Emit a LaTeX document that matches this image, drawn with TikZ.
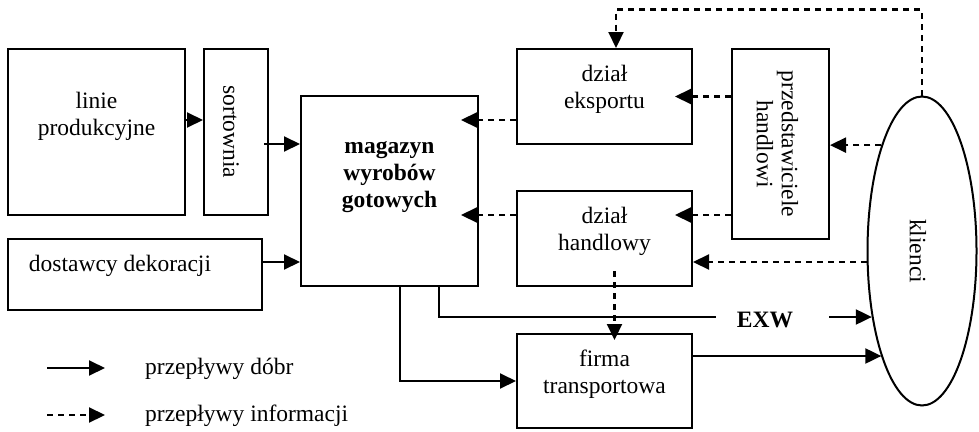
\documentclass[tikz,border=0pt]{standalone}
\usepackage{fontspec}
\setmainfont{Liberation Serif}
\usetikzlibrary{arrows.meta,calc,shapes.geometric}
\tikzset{
  blok/.style={draw, line width=2pt, inner sep=0pt},
  napis/.style={align=center, inner sep=0pt, font=\fontsize{23.5}{27}\selectfont},
  gruby/.style={napis, font=\fontsize{23.5}{27}\selectfont\bfseries},
  dobra/.style={line width=2pt, -{Triangle[length=16pt,width=15pt]}},
  info/.style={dobra, line width=2.2pt, dash pattern=on 6pt off 5pt},
}

\begin{document}
\begin{tikzpicture}[x=1pt, y=-1pt] % {{{
\useasboundingbox (0,0) rectangle (979,431);
% Bloki {{{
\node[blok, minimum width=177pt, minimum height=166pt] (linie) at (96.5,132) {};
\node[napis] (linieT) at ($(linie)+(0,-16)$) {linie\\produkcyjne};
\node[blok, minimum width=64pt, minimum height=166pt] (sort) at (236,132) {};
\node[napis, rotate=-90] (sortT) at ($(sort)+(-5,0)$) {sortownia};
\node[blok, minimum width=254pt, minimum height=71pt] (dost) at (135,274.5) {};
\node[napis] (dostT) at ($(dost)+(-15,-9)$) {dostawcy dekoracji};
\node[blok, minimum width=177pt, minimum height=190pt] (mag) at (389.5,191) {};
\node[gruby] (magT) at ($(mag)+(0,-13.5)$) {magazyn\\wyrobów\\gotowych};
\node[blok, minimum width=175pt, minimum height=95pt] (eksp) at (604.5,96.5) {};
\node[napis] (ekspT) at ($(eksp)+(0,-7.5)$) {dział\\eksportu};
\node[blok, minimum width=175pt, minimum height=95pt] (handl) at (604.5,238.5) {};
\node[napis] (handlT) at ($(handl)+(0,-7)$) {dział\\handlowy};
\node[blok, minimum width=175pt, minimum height=94pt] (firma) at (604.5,381) {};
\node[napis] (firmaT) at ($(firma)+(0,-7)$) {firma\\transportowa};
\node[blok, minimum width=97pt, minimum height=190pt] (przed) at (780.5,144) {};
\node[napis, rotate=-90, font=\fontsize{23.5}{25}\selectfont] (przedT) at ($(przed)+(-3,0)$) {przedstawiciele\\handlowi};
\node[blok, ellipse, minimum width=109pt, minimum height=309pt] (kl) at (922,251) {};
\node[napis, rotate=-90] (klT) at ($(kl)+(-4,0)$) {klienci};
\node[gruby] (exw) at (765,320) {EXW};
% }}}
% Przeplywy dobr {{{
\draw[dobra] ($(linie.east)+(0,-12)$) -- ($(sort.west)+(0,-12)$);
\draw[dobra] ($(sort.east)+(-5,12)$) coordinate (s1) -- (s1 -| mag.west);
\draw[dobra] ($(dost.east)+(0,-12.5)$) coordinate (d1) -- (d1 -| mag.west);
\draw[dobra] ($(mag.south)+(10.5,0)$) |- (firma.west);
\draw[line width=2pt] ($(mag.south)+(49.5,0)$) |- ($(exw.west)+(-21,-3)$);
\draw[dobra] ($(exw.east)+(36,-3)$) coordinate (x1) -- (x1 -| kl.233);
\draw[dobra] ($(firma.east)+(0,-25)$) coordinate (f1) -- (f1 -| kl.249);
% }}}
% Przeplywy informacji {{{
\draw[info] ($(eksp.west)+(0,23.5)$) coordinate (e1) -- ($(e1 -| mag.east)+(-18,0)$);
\draw[info] ($(handl.west)+(0,-23.5)$) coordinate (h1) -- ($(h1 -| mag.east)+(-18,0)$);
\draw[info] (eksp.east -| przed.west) -- ($(eksp.east)+(-18,0)$);
\draw[info] ($(przed.west)+(0,71)$) -- ($(handl.east)+(-18,-23.5)$);
\draw[info] (kl.111) -- (kl.111 -| przed.east);
\draw[info] ($(kl.west)+(0,11)$) -- ($(handl.east)+(0,23.5)$);
\draw[info] (kl.north) -- ++(0,-86) -| ($(eksp.north)+(11.5,0)$);
\draw[info] ($(handl.south)+(10,-16)$) -- ($(firma.north)+(10,7)$);
% }}}
% Legenda {{{
\coordinate (la) at (47,368);
\coordinate (lb) at (105,368);
\coordinate (lc) at (47,415);
\coordinate (ld) at (105,415);
\draw[dobra] (la) -- (lb);
\draw[info] (lc) -- (ld);
\node[napis, anchor=west] (ldobra) at (145,369) {przepływy dóbr};
\node[napis, anchor=west] (linfo) at (145,416) {przepływy informacji};
% }}}
\end{tikzpicture} % }}}
\end{document}
